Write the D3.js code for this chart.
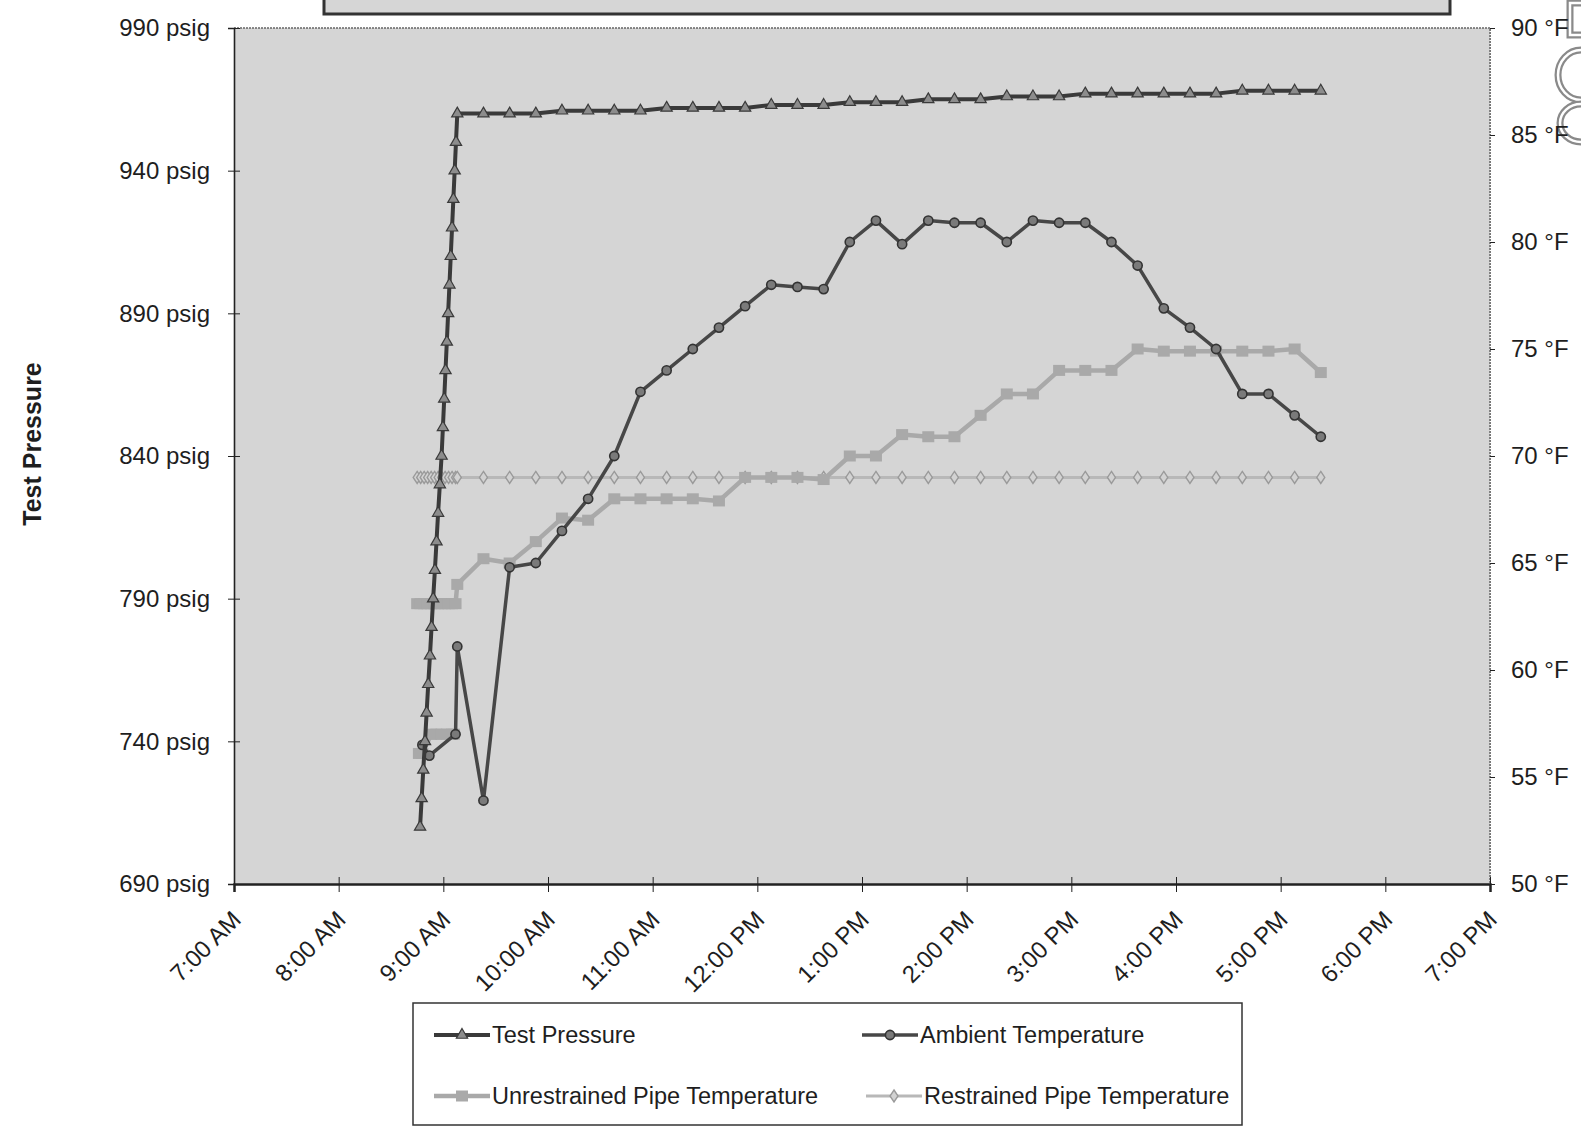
<!DOCTYPE html>
<html>
<head>
<meta charset="utf-8">
<script src="https://cdn.jsdelivr.net/npm/d3@7"></script>
<style>
  html, body { margin: 0; padding: 0; background: #fff; }
  svg { display: block; font-family: "Liberation Sans", Arial, sans-serif; }
</style>
</head>
<body>
<div id="chart"></div>
<script>
// ---- data ----
const xTicks = ["7:00", "8:00", "9:00", "10:00", "11:00", "12:00", "13:00",
  "14:00", "15:00", "16:00", "17:00", "18:00", "19:00"];
const pressureTicks = [690, 740, 790, 840, 890, 940, 990];
const tempTicks = [50, 55, 60, 65, 70, 75, 80, 85, 90];

const pressureTimes = ["8:46:40", "8:47:35", "8:48:30", "8:49:30", "8:50:25", "8:51:20",
  "8:52:20", "8:53:15", "8:54:10", "8:55:10", "8:56:05", "8:57:00", "8:58:00", "8:59:00",
  "8:59:45", "9:00:30", "9:01:15", "9:02:00", "9:02:45", "9:03:30", "9:04:15", "9:05:00",
  "9:05:45", "9:06:30", "9:07:15", "9:08", "9:23", "9:38", "9:53", "10:08", "10:23",
  "10:38", "10:53", "11:08", "11:23", "11:38", "11:53", "12:08", "12:23", "12:38",
  "12:53", "13:08", "13:23", "13:38", "13:53", "14:08", "14:23", "14:38", "14:53",
  "15:08", "15:23", "15:38", "15:53", "16:08", "16:23", "16:38", "16:53", "17:08", "17:23"];
const pressureValues = [710, 720, 730, 740, 750, 760, 770, 780, 790, 800, 810, 820, 830, 840,
  850, 860, 870, 880, 890, 900, 910, 920, 930, 940, 950, 960, 960, 960, 960, 961, 961,
  961, 961, 962, 962, 962, 962, 963, 963, 963, 964, 964, 964, 965, 965, 965, 966, 966,
  966, 967, 967, 967, 967, 967, 967, 968, 968, 968, 968];

const ambientTimes = ["8:48", "8:52", "9:07", "9:08", "9:23", "9:38", "9:53", "10:08", "10:23",
  "10:38", "10:53", "11:08", "11:23", "11:38", "11:53", "12:08", "12:23", "12:38", "12:53",
  "13:08", "13:23", "13:38", "13:53", "14:08", "14:23", "14:38", "14:53", "15:08", "15:23",
  "15:38", "15:53", "16:08", "16:23", "16:38", "16:53", "17:08", "17:23"];
const ambientValues = [56.5, 56.0, 57.0, 61.1, 53.9, 64.8, 65.0, 66.5, 68.0,
  70.0, 73.0, 74.0, 75.0, 76.0, 77.0, 78.0, 77.9, 77.8, 80.0,
  81.0, 79.9, 81.0, 80.9, 80.9, 80.0, 81.0, 80.9, 80.9, 80.0,
  78.9, 76.9, 76.0, 75.0, 72.9, 72.9, 71.9, 70.9];

// first readings (56-57 °F) are logged apart from the main run, hence the null gap
const unrestrainedTimes = ["8:46", "8:48", "8:53", "8:56", "8:59", "9:02", "9:05", "9:06", null,
  "8:45", "8:47", "8:49", "8:51", "8:53", "8:55", "8:57", "8:59",
  "9:01", "9:03", "9:05", "9:07", "9:08", "9:23", "9:38", "9:53", "10:08", "10:23",
  "10:38", "10:53", "11:08", "11:23", "11:38", "11:53", "12:08", "12:23", "12:38",
  "12:53", "13:08", "13:23", "13:38", "13:53", "14:08", "14:23", "14:38", "14:53",
  "15:08", "15:23", "15:38", "15:53", "16:08", "16:23", "16:38", "16:53", "17:08", "17:23"];
const unrestrainedValues = [56.1, 56.1, 57.0, 57.0, 57.0, 57.0, 57.0, 57.0, null,
  63.1, 63.1, 63.1, 63.1, 63.1, 63.1, 63.1, 63.1,
  63.1, 63.1, 63.1, 63.1, 64.0, 65.2, 65.0, 66.0, 67.1, 67.0,
  68.0, 68.0, 68.0, 68.0, 67.9, 69.0, 69.0, 69.0, 68.9,
  70.0, 70.0, 71.0, 70.9, 70.9, 71.9, 72.9, 72.9, 74.0,
  74.0, 74.0, 75.0, 74.9, 74.9, 74.9, 74.9, 74.9, 75.0, 73.9];

const restrainedTimes = ["8:45", "8:47", "8:49", "8:51", "8:53", "8:55", "8:57", "8:59",
  "9:01", "9:03", "9:05", "9:07", "9:08", "9:23", "9:38", "9:53", "10:08", "10:23",
  "10:38", "10:53", "11:08", "11:23", "11:38", "11:53", "12:08", "12:23", "12:38",
  "12:53", "13:08", "13:23", "13:38", "13:53", "14:08", "14:23", "14:38", "14:53",
  "15:08", "15:23", "15:38", "15:53", "16:08", "16:23", "16:38", "16:53", "17:08", "17:23"];
const restrainedValues = restrainedTimes.map(() => 69.0);

const legendLabels = ["Test Pressure", "Ambient Temperature",
  "Unrestrained Pipe Temperature", "Restrained Pipe Temperature"];

// ---- helpers ----
function t(s) {
  const [h, m, sec] = s.split(":").map(Number);
  return new Date(2000, 0, 1, h, m, sec || 0);
}
function zip(times, values) {
  return times.map((d, i) => ({ time: d === null ? null : t(d), value: values[i] }));
}

const width = 1581, height = 1134;
const plot = { left: 234, right: 1490, top: 28, bottom: 884 };

const svg = d3.select("#chart").append("svg")
  .attr("width", width)
  .attr("height", height);

const x = d3.scaleTime()
  .domain([t(xTicks[0]), t(xTicks[xTicks.length - 1])])
  .range([plot.left, plot.right]);
const yL = d3.scaleLinear().domain([690, 990]).range([plot.bottom, plot.top]);
const yR = d3.scaleLinear().domain([50, 90]).range([plot.bottom, plot.top]);

// fragments of a hollow stamp cut off by the right edge of the scan (behind the labels)
const stamp = svg.append("g").attr("fill", "none");
const stampPaths = [
  "M1581,3H1570V35H1581",
  "M1581,50A23,25 0 0,0 1581,100",
  "M1581,104A21,19 0 0,0 1581,142"
];
stampPaths.forEach(p => {
  stamp.append("path").attr("d", p).attr("stroke", "#8a8a8a").attr("stroke-width", 7);
  stamp.append("path").attr("d", p).attr("stroke", "#fff").attr("stroke-width", 2.5);
});

// title box cut off at the top of the scan
svg.append("rect")
  .attr("x", 324).attr("y", -10)
  .attr("width", 1126).attr("height", 24)
  .attr("fill", "#d6d6d6").attr("stroke", "#333").attr("stroke-width", 3);

// plot area
svg.append("rect")
  .attr("x", plot.left).attr("y", plot.top)
  .attr("width", plot.right - plot.left).attr("height", plot.bottom - plot.top)
  .attr("fill", "#d5d5d5");
svg.append("path")
  .attr("d", `M${plot.left},${plot.top}H${plot.right}V${plot.bottom}`)
  .attr("fill", "none").attr("stroke", "#666").attr("stroke-width", 1.5)
  .attr("stroke-dasharray", "2,1");

// series
const styles = {
  restrained: { color: "#b8b8b8", width: 3 },
  unrestrained: { color: "#a9a9a9", width: 4.5 },
  ambient: { color: "#474747", width: 3.5 },
  pressure: { color: "#3a3a3a", width: 4 }
};

function drawLine(data, y, st) {
  svg.append("path")
    .datum(data)
    .attr("fill", "none")
    .attr("stroke", st.color)
    .attr("stroke-width", st.width)
    .attr("stroke-linejoin", "round")
    .attr("d", d3.line()
      .defined(d => d.value !== null)
      .x(d => x(d.time)).y(d => y(d.value)));
}

function marker(g, kind) {
  if (kind === "triangle") {
    g.append("path").attr("d", d3.symbol(d3.symbolTriangle, 55)())
      .attr("fill", "#8c8c8c").attr("stroke", "#3a3a3a").attr("stroke-width", 1.2);
  } else if (kind === "circle") {
    g.append("circle").attr("r", 4.6)
      .attr("fill", "#7a7a7a").attr("stroke", "#333").attr("stroke-width", 1.6);
  } else if (kind === "square") {
    g.append("rect").attr("x", -6).attr("y", -5.5).attr("width", 12).attr("height", 11)
      .attr("fill", "#a9a9a9");
  } else if (kind === "diamond") {
    g.append("path").attr("d", "M0,-6L4,0L0,6L-4,0Z")
      .attr("fill", "#d2d2d2").attr("stroke", "#9a9a9a").attr("stroke-width", 1.4);
  }
}

function drawMarkers(data, y, kind) {
  svg.append("g").selectAll("g")
    .data(data.filter(d => d.value !== null))
    .join("g")
    .attr("transform", d => `translate(${x(d.time)},${y(d.value)})`)
    .each(function () { marker(d3.select(this), kind); });
}

const restrained = zip(restrainedTimes, restrainedValues);
const unrestrained = zip(unrestrainedTimes, unrestrainedValues);
const ambient = zip(ambientTimes, ambientValues);
const pressure = zip(pressureTimes, pressureValues);

drawLine(restrained, yR, styles.restrained);
drawMarkers(restrained, yR, "diamond");
drawLine(unrestrained, yR, styles.unrestrained);
drawMarkers(unrestrained, yR, "square");
drawLine(ambient, yR, styles.ambient);
drawMarkers(ambient, yR, "circle");
drawLine(pressure, yL, styles.pressure);
drawMarkers(pressure, yL, "triangle");

// axes
const left = svg.append("g")
  .attr("transform", `translate(${plot.left},0)`)
  .call(d3.axisLeft(yL).tickValues(pressureTicks).tickFormat(d => d + " psig")
    .tickSize(6).tickPadding(18));
left.selectAll(".tick line").attr("x1", 6);

const right = svg.append("g")
  .attr("transform", `translate(${plot.right},0)`)
  .call(d3.axisRight(yR).tickValues(tempTicks).tickFormat(d => d + " °F")
    .tickSize(5).tickPadding(16));
right.select(".domain").attr("stroke-dasharray", "2,1");

const bottom = svg.append("g")
  .attr("transform", `translate(0,${plot.bottom})`)
  .call(d3.axisBottom(x).tickValues(xTicks.map(t))
    .tickFormat(d3.timeFormat("%-I:%M %p")).tickSize(8));
bottom.select(".domain").attr("stroke-width", 2.5);
bottom.selectAll(".tick line").attr("y1", -7);
bottom.selectAll(".tick text")
  .attr("y", 0).attr("dy", 0)
  .attr("text-anchor", "end")
  .attr("transform", "translate(8,37) rotate(-45)");

svg.selectAll(".tick text").attr("font-size", 24).attr("fill", "#1e1e1e")
  .attr("font-family", "'Liberation Sans', Arial, sans-serif");
svg.selectAll(".domain, .tick line").attr("stroke", function () {
  return d3.select(this).attr("stroke-dasharray") ? "#777" : "#222";
});
left.select(".domain").attr("stroke-width", 1.6);

// axis title
svg.append("text")
  .attr("transform", "translate(41,444) rotate(-90)")
  .attr("text-anchor", "middle")
  .attr("font-size", 25)
  .attr("font-weight", "bold")
  .attr("fill", "#1e1e1e")
  .text("Test Pressure");

// legend
const legend = svg.append("g");
legend.append("rect")
  .attr("x", 413).attr("y", 1003).attr("width", 829).attr("height", 122)
  .attr("fill", "#fff").attr("stroke", "#333").attr("stroke-width", 1.5);

const legendItems = [
  { label: legendLabels[0], x: 434, y: 1035, st: styles.pressure, kind: "triangle" },
  { label: legendLabels[1], x: 862, y: 1035, st: styles.ambient, kind: "circle" },
  { label: legendLabels[2], x: 434, y: 1096, st: styles.unrestrained, kind: "square" },
  { label: legendLabels[3], x: 866, y: 1096, st: styles.restrained, kind: "diamond" }
];
legendItems.forEach(item => {
  const g = legend.append("g").attr("transform", `translate(${item.x},${item.y})`);
  g.append("line").attr("x1", 0).attr("x2", 56)
    .attr("stroke", item.st.color).attr("stroke-width", item.st.width);
  marker(g.append("g").attr("transform", "translate(28,0)"), item.kind);
  g.append("text")
    .attr("x", 58).attr("dy", "0.35em")
    .attr("font-size", 23.5)
    .attr("fill", "#1e1e1e")
    .text(item.label);
});
</script>
</body>
</html>
